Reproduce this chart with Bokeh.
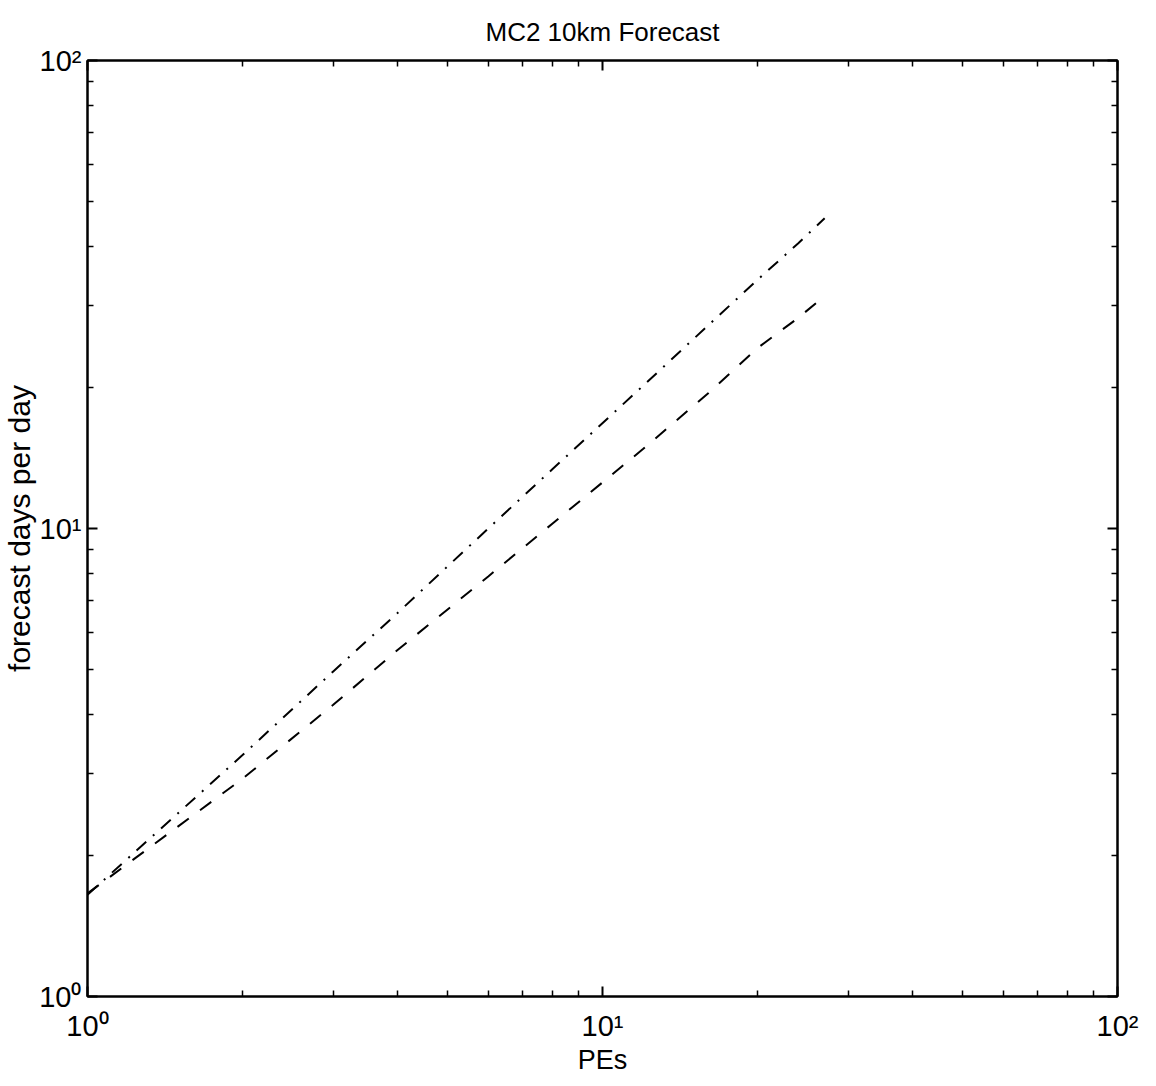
from bokeh.plotting import figure
from bokeh.models import FixedTicker, LogAxis
from bokeh.embed import file_html
from bokeh.resources import INLINE

# ---- data ----
pes = [1, 2, 3, 4, 6, 8, 12, 16, 20, 24, 27]
dashdot_days = [1.65, 3.28, 4.95, 6.6, 10.0, 13.4, 20.2, 27.1, 34.0, 40.7, 46.0]
dashed_days = [1.66, 2.92, 4.2, 5.5, 7.9, 10.25, 14.8, 19.4, 24.3, 28.2, 31.4]

decade_ticks = [1, 10, 100]
minor_ticks = [2, 3, 4, 5, 6, 7, 8, 9, 20, 30, 40, 50, 60, 70, 80, 90]
decade_labels = {1: "10\u2070", 10: "10\u00b9", 100: "10\u00b2"}
blank_labels = {1: "", 10: "", 100: ""}

title_text = "MC2 10km Forecast"
x_label = "PEs"
y_label = "forecast days per day"

FONT = "Liberation Sans"

p = figure(width=1156, height=1086,
           x_axis_type="log", y_axis_type="log",
           x_range=(1, 100), y_range=(1, 100),
           output_backend="svg", toolbar_location=None,
           min_border_left=86, min_border_right=39,
           min_border_top=59, min_border_bottom=90,
           title=title_text)

p.background_fill_color = "white"
p.border_fill_color = "white"
p.outline_line_color = "black"
p.outline_line_width = 2
p.xgrid.visible = False
p.ygrid.visible = False

p.title.align = "center"
p.title.text_font = FONT
p.title.text_font_size = "26px"
p.title.text_font_style = "normal"
p.title.text_color = "black"
p.title.standoff = 28


def style_axis(ax, labels):
    ax.ticker = FixedTicker(ticks=decade_ticks, minor_ticks=minor_ticks)
    ax.major_label_overrides = labels
    ax.axis_line_color = "black"
    ax.axis_line_width = 2
    ax.major_tick_in = 10
    ax.major_tick_out = 0
    ax.minor_tick_in = 6
    ax.minor_tick_out = 0
    ax.major_tick_line_color = "black"
    ax.major_tick_line_width = 2
    ax.minor_tick_line_color = "black"
    ax.minor_tick_line_width = 1.5
    ax.major_label_text_font = FONT
    ax.major_label_text_font_size = "29px"
    ax.major_label_text_color = "black"
    ax.axis_label_text_font = FONT
    ax.axis_label_text_font_size = "27px"
    ax.axis_label_text_font_style = "normal"
    ax.axis_label_text_color = "black"


xax = p.xaxis[0]
yax = p.yaxis[0]
style_axis(xax, decade_labels)
style_axis(yax, decade_labels)
xax.axis_label = x_label
yax.axis_label = y_label
yax.axis_label_text_font_size = "30px"
xax.major_label_standoff = 13
xax.axis_label_standoff = 0
yax.major_label_standoff = 6
yax.axis_label_standoff = 0

top_ax = LogAxis()
style_axis(top_ax, blank_labels)
top_ax.major_label_standoff = 0
p.add_layout(top_ax, "above")

right_ax = LogAxis()
style_axis(right_ax, blank_labels)
right_ax.major_label_standoff = 0
p.add_layout(right_ax, "right")

p.line(pes, dashdot_days, line_color="black", line_width=2, line_dash="13 9 2 9")
p.line(pes, dashed_days, line_color="black", line_width=2, line_dash="14 14")

open("out.html", "w").write(file_html(p, INLINE))
